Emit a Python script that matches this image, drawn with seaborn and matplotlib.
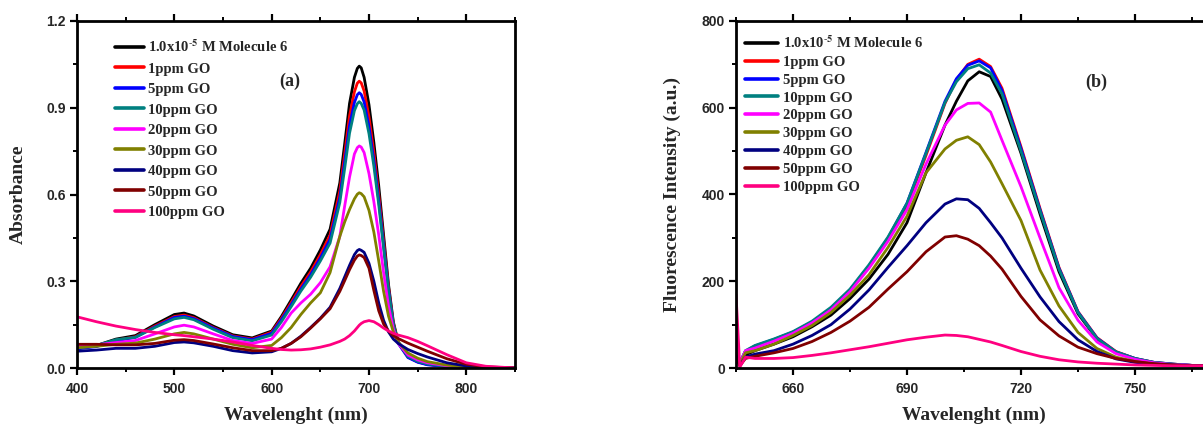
import matplotlib
matplotlib.use("Agg")
import matplotlib.pyplot as plt
from matplotlib.ticker import MultipleLocator, FormatStrFormatter
import numpy as np
import pandas as pd
import seaborn as sns

sns.set_theme(style="white")
plt.rcParams["font.family"] = ["Liberation Sans", "DejaVu Sans"]
plt.rcParams["mathtext.fontset"] = "stix"

# ---------------- sample names and colours ----------------
sample_labels = [
    r"1.0x10$^{\text{-}\mathbf{5}}$ M Molecule 6",
    "1ppm GO", "5ppm GO", "10ppm GO", "20ppm GO",
    "30ppm GO", "40ppm GO", "50ppm GO", "100ppm GO",
]
sample_colors = ["#000000", "#FF0000", "#0000FF", "#008080", "#FF00FF",
                 "#808000", "#000080", "#800000", "#FF0080"]

# ---------------- (a) UV-vis absorbance ----------------
abs_wavelength = [400, 420, 440, 460, 480, 500, 510, 520, 540, 560, 580, 600,
                  610, 620, 630, 640, 650, 660, 670, 675, 680, 685, 688, 690,
                  692, 695, 700, 705, 710, 715, 720, 725, 730, 740, 750, 760,
                  780, 800, 820, 850]
abs_molecule6 = [0.068, 0.078, 0.100, 0.112, 0.150, 0.185, 0.190, 0.180, 0.145, 0.115, 0.104, 0.128,
                 0.178, 0.235, 0.293, 0.345, 0.408, 0.480, 0.640, 0.775, 0.915, 1.005, 1.036, 1.044,
                 1.038, 1.005, 0.910, 0.780, 0.630, 0.460, 0.290, 0.160, 0.090, 0.040, 0.022, 0.013,
                 0.006, 0.003, 0.001, 0.0]
abs_go1 = [0.068, 0.076, 0.096, 0.108, 0.145, 0.178, 0.183, 0.174, 0.140, 0.111, 0.100, 0.124,
           0.172, 0.226, 0.282, 0.332, 0.392, 0.460, 0.612, 0.740, 0.872, 0.955, 0.985, 0.992,
           0.986, 0.958, 0.868, 0.745, 0.600, 0.440, 0.280, 0.155, 0.088, 0.038, 0.021, 0.012,
           0.005, 0.002, 0.001, 0.0]
abs_go5 = [0.066, 0.074, 0.094, 0.106, 0.142, 0.175, 0.179, 0.171, 0.138, 0.109, 0.098, 0.120,
           0.167, 0.219, 0.273, 0.322, 0.380, 0.445, 0.590, 0.712, 0.838, 0.918, 0.945, 0.952,
           0.946, 0.920, 0.835, 0.718, 0.580, 0.425, 0.272, 0.150, 0.085, 0.036, 0.020, 0.011,
           0.005, 0.002, 0.001, 0.0]
abs_go10 = [0.070, 0.078, 0.098, 0.106, 0.140, 0.170, 0.175, 0.167, 0.134, 0.105, 0.094, 0.114,
            0.160, 0.212, 0.266, 0.314, 0.370, 0.432, 0.572, 0.690, 0.812, 0.890, 0.914, 0.921,
            0.915, 0.892, 0.810, 0.698, 0.565, 0.415, 0.268, 0.150, 0.088, 0.040, 0.023, 0.014,
            0.006, 0.003, 0.001, 0.0]
abs_go20 = [0.075, 0.080, 0.088, 0.095, 0.118, 0.142, 0.148, 0.142, 0.118, 0.095, 0.085, 0.100,
            0.140, 0.190, 0.225, 0.255, 0.295, 0.350, 0.455, 0.560, 0.660, 0.740, 0.762, 0.768,
            0.764, 0.745, 0.672, 0.575, 0.460, 0.330, 0.215, 0.135, 0.085, 0.045, 0.028, 0.018,
            0.008, 0.004, 0.001, 0.0]
abs_go30 = [0.070, 0.075, 0.082, 0.086, 0.100, 0.118, 0.123, 0.118, 0.100, 0.082, 0.070, 0.078,
            0.105, 0.140, 0.185, 0.225, 0.260, 0.330, 0.455, 0.505, 0.548, 0.585, 0.601, 0.606,
            0.603, 0.592, 0.545, 0.470, 0.370, 0.265, 0.180, 0.125, 0.090, 0.052, 0.034, 0.022,
            0.010, 0.004, 0.001, 0.0]
abs_go40 = [0.058, 0.062, 0.068, 0.068, 0.075, 0.088, 0.090, 0.087, 0.075, 0.060, 0.052, 0.056,
            0.068, 0.085, 0.110, 0.140, 0.172, 0.210, 0.275, 0.315, 0.355, 0.392, 0.406, 0.410,
            0.407, 0.400, 0.362, 0.300, 0.225, 0.165, 0.125, 0.100, 0.085, 0.064, 0.050, 0.038,
            0.018, 0.007, 0.002, 0.0]
abs_go50 = [0.082, 0.082, 0.080, 0.080, 0.085, 0.096, 0.098, 0.095, 0.083, 0.070, 0.060, 0.060,
            0.068, 0.085, 0.108, 0.138, 0.170, 0.205, 0.265, 0.302, 0.340, 0.373, 0.387, 0.391,
            0.389, 0.382, 0.345, 0.268, 0.198, 0.152, 0.128, 0.112, 0.102, 0.086, 0.072, 0.058,
            0.032, 0.013, 0.004, 0.0]
abs_go100 = [0.177, 0.160, 0.145, 0.133, 0.123, 0.115, 0.112, 0.108, 0.100, 0.090, 0.078, 0.068,
             0.064, 0.062, 0.063, 0.066, 0.072, 0.080, 0.092, 0.100, 0.112, 0.128, 0.140, 0.148,
             0.154, 0.160, 0.164, 0.160, 0.150, 0.138, 0.128, 0.120, 0.114, 0.105, 0.092, 0.077,
             0.046, 0.018, 0.006, 0.0]

# ---------------- (b) fluorescence emission ----------------
fl_wavelength = [645, 646, 647.5, 650, 655, 660, 665, 670, 675, 680, 685, 690, 695, 700,
                 703, 706, 709, 712, 715, 720, 725, 730, 735, 740, 745, 750, 755, 760,
                 765, 770]
fl_molecule6 = [45, 10, 30, 40, 55, 72, 95, 122, 160, 205, 262, 335, 450, 560,
                615, 662, 683, 672, 620, 495, 355, 222, 125, 67, 36, 21, 12, 8, 6, 5]
fl_go1 = [48, 12, 38, 50, 65, 82, 105, 137, 178, 233, 297, 375, 490, 610,
          665, 700, 712, 695, 645, 510, 368, 232, 130, 70, 38, 22, 13, 9, 6, 5]
fl_go5 = [48, 12, 39, 51, 66, 83, 106, 138, 180, 236, 300, 380, 497, 615,
          667, 698, 708, 692, 640, 506, 365, 230, 129, 69, 37, 22, 13, 9, 6, 5]
fl_go10 = [48, 12, 40, 52, 67, 84, 108, 140, 182, 238, 302, 380, 495, 612,
           660, 690, 699, 680, 632, 500, 362, 228, 128, 68, 37, 22, 13, 9, 6, 5]
fl_go20 = [60, 10, 40, 46, 62, 80, 104, 134, 176, 230, 292, 365, 470, 560,
           595, 610, 611, 590, 525, 418, 300, 185, 110, 60, 33, 20, 12, 8, 6, 5]
fl_go30 = [40, 8, 35, 40, 55, 75, 98, 128, 168, 215, 278, 350, 450, 505,
           525, 533, 515, 475, 425, 340, 226, 143, 82, 45, 25, 15, 9, 7, 5, 5]
fl_go40 = [30, 5, 25, 32, 40, 55, 75, 100, 136, 180, 232, 282, 335, 378,
           390, 388, 368, 335, 300, 230, 164, 107, 65, 38, 21, 13, 9, 7, 5, 5]
fl_go50 = [25, 5, 22, 27, 35, 45, 61, 82, 108, 140, 182, 222, 268, 302,
           305, 297, 282, 258, 228, 165, 111, 74, 48, 33, 22, 15, 10, 7, 5, 5]
fl_go100 = [170, 2, 25, 22, 22, 24, 29, 35, 42, 49, 57, 65, 71, 76,
            75, 72, 66, 60, 52, 38, 27, 19, 14, 11, 9, 7, 6, 5, 5, 5]

abs_series = [abs_molecule6, abs_go1, abs_go5, abs_go10, abs_go20,
              abs_go30, abs_go40, abs_go50, abs_go100]
fl_series = [fl_molecule6, fl_go1, fl_go5, fl_go10, fl_go20,
             fl_go30, fl_go40, fl_go50, fl_go100]


def long_table(wavelength, series):
    frames = []
    for label, values in zip(sample_labels, series):
        frames.append(pd.DataFrame({"wavelength": wavelength,
                                    "value": values,
                                    "sample": label}))
    return pd.concat(frames, ignore_index=True)


abs_df = long_table(abs_wavelength, abs_series)
fl_df = long_table(fl_wavelength, fl_series)

palette = dict(zip(sample_labels, sample_colors))
serif_bold = {"family": "Liberation Serif", "weight": "bold"}

fig = plt.figure(figsize=(12.03, 4.25), dpi=100)
W, H = 1203.0, 425.0
ax_a = fig.add_axes([77 / W, 57 / H, 438 / W, 347 / H])
ax_b = fig.add_axes([736 / W, 57 / H, 475 / W, 347 / H])

for ax, df in ((ax_a, abs_df), (ax_b, fl_df)):
    sns.lineplot(data=df, x="wavelength", y="value", hue="sample",
                 hue_order=sample_labels, palette=palette, estimator=None,
                 sort=False, linewidth=2.0, ax=ax)

ax_a.set_xlim(400, 850)
ax_a.set_ylim(0, 1.2)
ax_a.set_xticks([400, 500, 600, 700, 800])
ax_a.xaxis.set_minor_locator(MultipleLocator(50))
ax_a.yaxis.set_major_locator(MultipleLocator(0.3))
ax_a.yaxis.set_minor_locator(MultipleLocator(0.15))
ax_a.yaxis.set_major_formatter(FormatStrFormatter("%.1f"))

ax_b.set_xlim(645, 770)
ax_b.set_ylim(0, 800)
ax_b.set_xticks([660, 690, 720, 750])
ax_b.xaxis.set_minor_locator(MultipleLocator(15))
ax_b.yaxis.set_major_locator(MultipleLocator(200))
ax_b.yaxis.set_minor_locator(MultipleLocator(100))

for ax in (ax_a, ax_b):
    for side in ("left", "right", "top", "bottom"):
        ax.spines[side].set_visible(True)
        ax.spines[side].set_color("black")
        ax.spines[side].set_linewidth(2.0)
    ax.tick_params(axis="both", which="major", direction="out", length=5,
                   width=1.6, color="black", labelsize=10, pad=3,
                   bottom=True, left=True, top=False, right=False)
    ax.tick_params(axis="both", which="minor", direction="out", length=3,
                   width=1.4, color="black",
                   bottom=True, left=True, top=False, right=False)
    ax.tick_params(axis="x", which="both", top=True)
    ax.tick_params(axis="x", which="major", pad=5)
    for lab in ax.get_xticklabels() + ax.get_yticklabels():
        lab.set_fontweight("bold")
        lab.set_family(["Liberation Sans", "DejaVu Sans"])
    ax.grid(False)
    ax.set_facecolor("white")
    ax.get_legend().remove()

ax_a.set_xlabel("Wavelenght (nm)", fontsize=14, **serif_bold)
ax_a.set_ylabel("Absorbance", fontsize=14, **serif_bold)
ax_b.set_xlabel("Wavelenght (nm)", fontsize=14, **serif_bold)
ax_b.set_ylabel("Fluorescence Intensity (a.u.)", fontsize=14, **serif_bold)
for ax, ylab_x in ((ax_a, (18 - 77) / 438), (ax_b, (672 - 736) / 475)):
    ax.xaxis.set_label_coords(0.5, (368 - 415) / 347.0)
    ax.xaxis.label.set_va("center")
    ax.yaxis.set_label_coords(ylab_x, 0.5)
    ax.yaxis.label.set_va("center")

ax_a.text(619, 0.992, "(a)", fontsize=13, ha="center", va="center", **serif_bold)
ax_b.text(739.7, 659, "(b)", fontsize=13, ha="center", va="center", **serif_bold)

legend_font = {"family": "Liberation Serif", "weight": "bold", "size": 10.5}
for ax, anchor, spacing, hlen in ((ax_a, (0.080, 0.958), 0.50, 2.0),
                                  (ax_b, (0.012, 0.970), 0.32, 2.3)):
    handles, labels = ax.get_legend_handles_labels()
    leg = ax.legend(handles, labels, loc="upper left", bbox_to_anchor=anchor,
                    frameon=False, prop=legend_font, labelspacing=spacing,
                    handlelength=hlen, handletextpad=0.3, borderaxespad=0,
                    borderpad=0.2)
    for line in leg.get_lines():
        line.set_linewidth(2.6)

fig.savefig("out.png", dpi=100, facecolor="white")
